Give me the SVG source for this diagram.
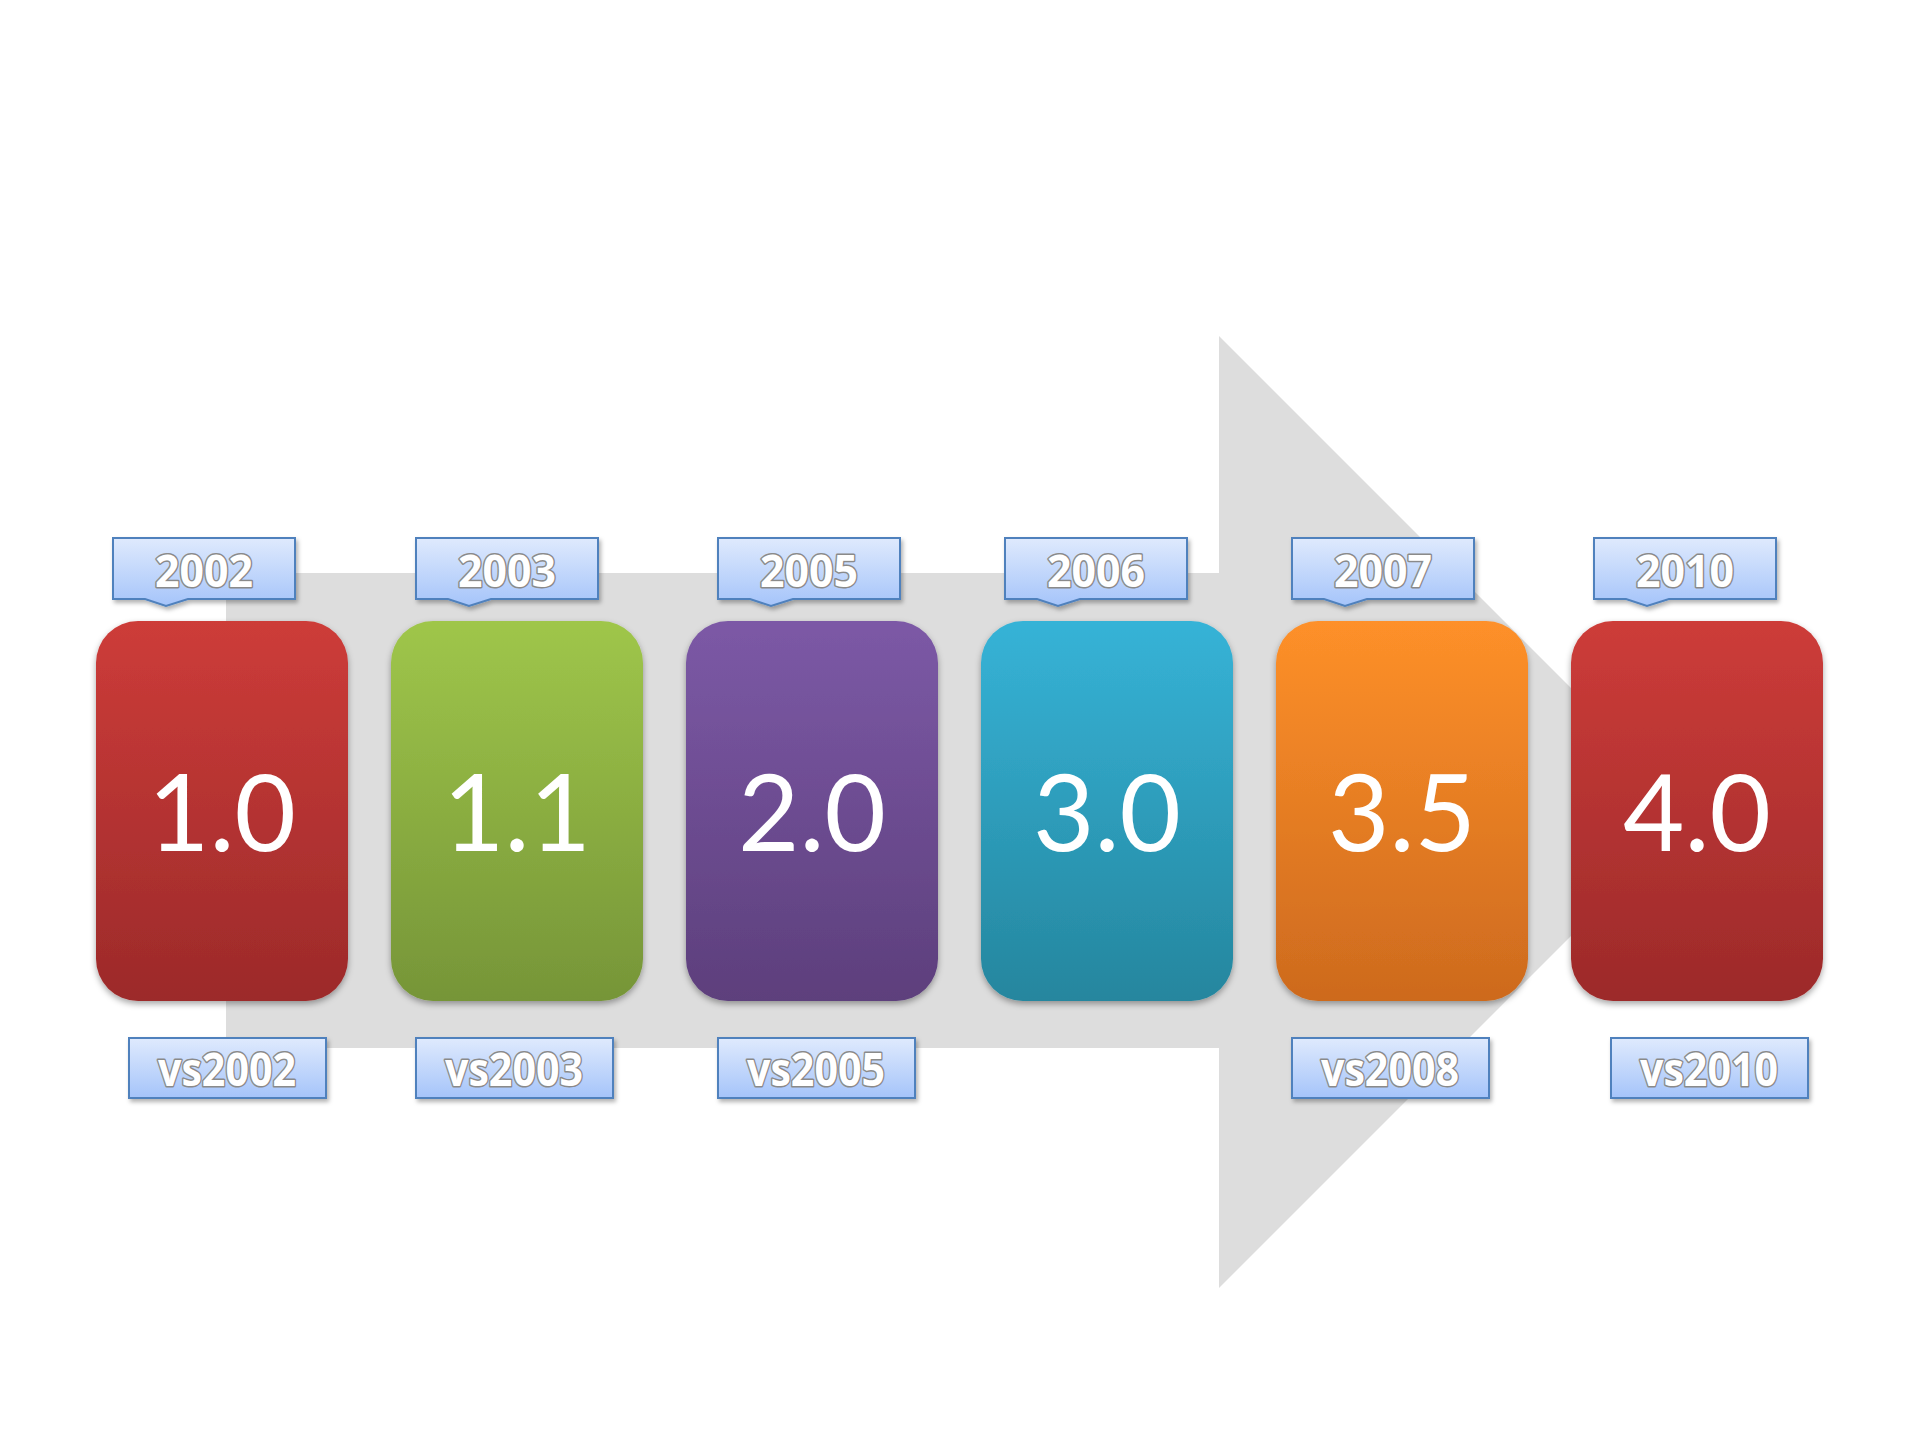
<svg xmlns="http://www.w3.org/2000/svg" width="1920" height="1440" viewBox="0 0 1920 1440">
<defs>
<style>
.box-text{font-family:Lato,"Open Sans","Liberation Sans",sans-serif;font-size:106px;fill:#ffffff;text-anchor:middle;}
.lbl{stroke:#4f81bd;stroke-width:2;filter:url(#lblShadow);}
.lbl-text{font-family:"Open Sans","Noto Sans","Liberation Sans",sans-serif;font-weight:700;fill:#ffffff;stroke:#8a8a8a;stroke-width:3;paint-order:stroke fill;stroke-linejoin:round;text-anchor:middle;}
.top-text{font-size:45px;}
.bot-text{font-size:47px;}
.box{filter:url(#boxShadow);}
</style>
<filter id="boxShadow" x="-10%" y="-10%" width="120%" height="125%">
<feDropShadow dx="0" dy="3" stdDeviation="3" flood-color="#000" flood-opacity="0.35"/>
</filter>
<filter id="lblShadow" x="-10%" y="-20%" width="125%" height="150%">
<feDropShadow dx="2" dy="3" stdDeviation="2" flood-color="#000" flood-opacity="0.3"/>
</filter>
<linearGradient id="gLbl" x1="0" y1="0" x2="0" y2="1"><stop offset="0" stop-color="#dfeafd"/><stop offset="1" stop-color="#a5c4fa"/></linearGradient>
<linearGradient id="gRed" x1="0" y1="0" x2="0" y2="1"><stop offset="0" stop-color="#cd3c39"/><stop offset="1" stop-color="#9c2a2a"/></linearGradient>
<linearGradient id="gGreen" x1="0" y1="0" x2="0" y2="1"><stop offset="0" stop-color="#9fc64a"/><stop offset="1" stop-color="#769538"/></linearGradient>
<linearGradient id="gPurple" x1="0" y1="0" x2="0" y2="1"><stop offset="0" stop-color="#7c59a6"/><stop offset="1" stop-color="#5d3f7c"/></linearGradient>
<linearGradient id="gTeal" x1="0" y1="0" x2="0" y2="1"><stop offset="0" stop-color="#36b3d7"/><stop offset="1" stop-color="#25869e"/></linearGradient>
<linearGradient id="gOrange" x1="0" y1="0" x2="0" y2="1"><stop offset="0" stop-color="#fe9029"/><stop offset="1" stop-color="#cd6a1e"/></linearGradient>
</defs>
<rect width="1920" height="1440" fill="#ffffff"/>
<g id="arrow">
<path d="M226,573 H1219 V336 L1695,812 L1219,1288 V1048 H226 Z" fill="#dddddd"/>
</g>
<g id="connectors"></g>

<g id="node-1-0">
<rect class="box" x="96" y="621" width="252" height="380" rx="42" fill="url(#gRed)"/>
<text class="box-text" x="222" y="851">1.0</text>
</g>
<g id="node-1-1">
<rect class="box" x="391" y="621" width="252" height="380" rx="42" fill="url(#gGreen)"/>
<text class="box-text" x="517" y="851">1.1</text>
</g>
<g id="node-2-0">
<rect class="box" x="686" y="621" width="252" height="380" rx="42" fill="url(#gPurple)"/>
<text class="box-text" x="812" y="851">2.0</text>
</g>
<g id="node-3-0">
<rect class="box" x="981" y="621" width="252" height="380" rx="42" fill="url(#gTeal)"/>
<text class="box-text" x="1107" y="851">3.0</text>
</g>
<g id="node-3-5">
<rect class="box" x="1276" y="621" width="252" height="380" rx="42" fill="url(#gOrange)"/>
<text class="box-text" x="1402" y="851">3.5</text>
</g>
<g id="node-4-0">
<rect class="box" x="1571" y="621" width="252" height="380" rx="42" fill="url(#gRed)"/>
<text class="box-text" x="1697" y="851">4.0</text>
</g>

<g id="year-2002">
<path class="lbl" fill="url(#gLbl)" d="M113,538 h182 v61 H188 L166,606 L145,599 H113 Z"/>
<text class="lbl-text top-text" x="204" y="587" textLength="98" lengthAdjust="spacingAndGlyphs">2002</text>
</g>
<g id="year-2003">
<path class="lbl" fill="url(#gLbl)" d="M416,538 h182 v61 H491 L469,606 L448,599 H416 Z"/>
<text class="lbl-text top-text" x="507" y="587" textLength="98" lengthAdjust="spacingAndGlyphs">2003</text>
</g>
<g id="year-2005">
<path class="lbl" fill="url(#gLbl)" d="M718,538 h182 v61 H793 L771,606 L750,599 H718 Z"/>
<text class="lbl-text top-text" x="809" y="587" textLength="98" lengthAdjust="spacingAndGlyphs">2005</text>
</g>
<g id="year-2006">
<path class="lbl" fill="url(#gLbl)" d="M1005,538 h182 v61 H1080 L1058,606 L1037,599 H1005 Z"/>
<text class="lbl-text top-text" x="1096" y="587" textLength="98" lengthAdjust="spacingAndGlyphs">2006</text>
</g>
<g id="year-2007">
<path class="lbl" fill="url(#gLbl)" d="M1292,538 h182 v61 H1367 L1345,606 L1324,599 H1292 Z"/>
<text class="lbl-text top-text" x="1383" y="587" textLength="98" lengthAdjust="spacingAndGlyphs">2007</text>
</g>
<g id="year-2010">
<path class="lbl" fill="url(#gLbl)" d="M1594,538 h182 v61 H1669 L1647,606 L1626,599 H1594 Z"/>
<text class="lbl-text top-text" x="1685" y="587" textLength="98" lengthAdjust="spacingAndGlyphs">2010</text>
</g>

<g id="vs2002">
<rect class="lbl" fill="url(#gLbl)" x="129" y="1038" width="197" height="60"/>
<text class="lbl-text bot-text" x="227" y="1086" textLength="138" lengthAdjust="spacingAndGlyphs">vs2002</text>
</g>
<g id="vs2003">
<rect class="lbl" fill="url(#gLbl)" x="416" y="1038" width="197" height="60"/>
<text class="lbl-text bot-text" x="514" y="1086" textLength="138" lengthAdjust="spacingAndGlyphs">vs2003</text>
</g>
<g id="vs2005">
<rect class="lbl" fill="url(#gLbl)" x="718" y="1038" width="197" height="60"/>
<text class="lbl-text bot-text" x="816" y="1086" textLength="138" lengthAdjust="spacingAndGlyphs">vs2005</text>
</g>
<g id="vs2008">
<rect class="lbl" fill="url(#gLbl)" x="1292" y="1038" width="197" height="60"/>
<text class="lbl-text bot-text" x="1390" y="1086" textLength="138" lengthAdjust="spacingAndGlyphs">vs2008</text>
</g>
<g id="vs2010">
<rect class="lbl" fill="url(#gLbl)" x="1611" y="1038" width="197" height="60"/>
<text class="lbl-text bot-text" x="1709" y="1086" textLength="138" lengthAdjust="spacingAndGlyphs">vs2010</text>
</g>
</svg>
